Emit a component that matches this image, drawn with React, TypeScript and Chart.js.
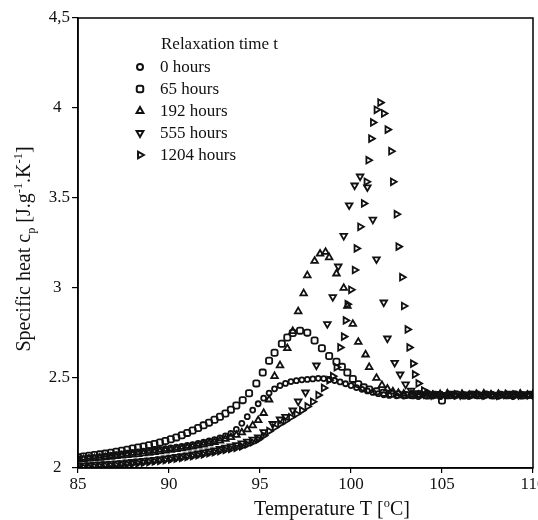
import React, { useEffect, useRef } from 'react';
import { Chart, registerables } from 'chart.js';
import { drawPoint } from 'chart.js/helpers';

Chart.register(...registerables);

const seriesLabels = ['0 hours', '65 hours', '192 hours', '555 hours', '1204 hours'];
const legendTitle = 'Relaxation time t';

const xTickValues = [85, 90, 95, 100, 105, 110];
const yTickValues = [2, 2.5, 3, 3.5, 4, 4.5];
const yTickLabels = ['2\u2002', '2.5', '3\u2002', '3.5', '4\u2002', '4,5'];

// [T (°C), cp (J/g/K)]
const hours0: [number, number][] = [
  [85.0, 2.050], [85.3, 2.052], [85.6, 2.056], [85.9, 2.058], [86.2, 2.062], [86.5, 2.066], [86.8, 2.070],
  [87.1, 2.074], [87.4, 2.078], [87.7, 2.082], [88.0, 2.086], [88.3, 2.090], [88.6, 2.094], [88.9, 2.097],
  [89.2, 2.100], [89.5, 2.104], [89.8, 2.108], [90.1, 2.112], [90.4, 2.116], [90.7, 2.120], [91.0, 2.125],
  [91.3, 2.130], [91.6, 2.136], [91.9, 2.143], [92.2, 2.150], [92.5, 2.158], [92.8, 2.167], [93.1, 2.178],
  [93.4, 2.192], [93.7, 2.215], [94.0, 2.248], [94.3, 2.285], [94.6, 2.322], [94.9, 2.357], [95.2, 2.388],
  [95.5, 2.416], [95.8, 2.440], [96.1, 2.458], [96.4, 2.470], [96.7, 2.480], [97.0, 2.485], [97.3, 2.490],
  [97.6, 2.492], [97.9, 2.495], [98.2, 2.498], [98.5, 2.497], [98.8, 2.492], [99.1, 2.486], [99.4, 2.478],
  [99.7, 2.468], [100.0, 2.458], [100.3, 2.447], [100.6, 2.437], [100.9, 2.428], [101.2, 2.420], [101.5, 2.413],
  [101.8, 2.407], [102.1, 2.403], [102.5, 2.401], [102.9, 2.400], [103.3, 2.402], [103.7, 2.397], [104.1, 2.401],
  [104.5, 2.400], [104.9, 2.396], [105.3, 2.401], [105.7, 2.400], [106.1, 2.403], [106.5, 2.398], [106.9, 2.401],
  [107.3, 2.400], [107.7, 2.403], [108.1, 2.399], [108.5, 2.401], [108.9, 2.397], [109.3, 2.401], [109.7, 2.403],
  [110.0, 2.400],
];

const hours65: [number, number][] = [
  [85.0, 2.060], [85.3, 2.064], [85.6, 2.068], [85.9, 2.072], [86.2, 2.076], [86.5, 2.080], [86.8, 2.085],
  [87.1, 2.090], [87.4, 2.096], [87.7, 2.102], [88.0, 2.108], [88.3, 2.114], [88.6, 2.120], [88.9, 2.127],
  [89.2, 2.134], [89.5, 2.142], [89.8, 2.150], [90.1, 2.160], [90.4, 2.170], [90.7, 2.182], [91.0, 2.195],
  [91.3, 2.208], [91.6, 2.222], [91.9, 2.237], [92.2, 2.252], [92.5, 2.268], [92.8, 2.285], [93.1, 2.303],
  [93.4, 2.324], [93.7, 2.347], [94.05, 2.377], [94.4, 2.415], [94.8, 2.470], [95.15, 2.530], [95.5, 2.596],
  [95.8, 2.640], [96.2, 2.690], [96.5, 2.725], [96.8, 2.750], [97.2, 2.763], [97.6, 2.752], [98.0, 2.708],
  [98.4, 2.665], [98.8, 2.622], [99.2, 2.590], [99.5, 2.562], [99.8, 2.530], [100.1, 2.495], [100.4, 2.466],
  [100.7, 2.448], [101.0, 2.436], [101.4, 2.426], [101.8, 2.418], [102.2, 2.412], [102.6, 2.408], [103.0, 2.405],
  [103.4, 2.404], [103.8, 2.408], [104.2, 2.403], [104.6, 2.407], [105.0, 2.375], [105.4, 2.404], [105.8, 2.408],
  [106.2, 2.403], [106.6, 2.407], [107.0, 2.404], [107.4, 2.408], [107.8, 2.403], [108.2, 2.407], [108.6, 2.404],
  [109.0, 2.408], [109.4, 2.403], [109.8, 2.407],
];

const hours192: [number, number][] = [
  [85.0, 2.046], [85.3, 2.048], [85.6, 2.051], [85.9, 2.053], [86.2, 2.056], [86.5, 2.059], [86.8, 2.062],
  [87.1, 2.065], [87.4, 2.068], [87.7, 2.071], [88.0, 2.074], [88.3, 2.077], [88.6, 2.081], [88.9, 2.084],
  [89.2, 2.088], [89.5, 2.092], [89.8, 2.096], [90.1, 2.100], [90.4, 2.104], [90.7, 2.108], [91.0, 2.113],
  [91.3, 2.118], [91.6, 2.124], [91.9, 2.130], [92.2, 2.137], [92.5, 2.144], [92.8, 2.152], [93.1, 2.161],
  [93.4, 2.171], [93.7, 2.183], [94.0, 2.197], [94.3, 2.214], [94.6, 2.236], [94.9, 2.265], [95.2, 2.305],
  [95.5, 2.380], [95.8, 2.510], [96.1, 2.570], [96.5, 2.665], [96.8, 2.760], [97.1, 2.870], [97.4, 2.970],
  [97.6, 3.070], [98.0, 3.150], [98.3, 3.190], [98.6, 3.200], [98.8, 3.170], [99.2, 3.080], [99.6, 3.000],
  [99.8, 2.900], [100.1, 2.800], [100.4, 2.700], [100.8, 2.630], [101.0, 2.560], [101.4, 2.500], [101.7, 2.460],
  [102.0, 2.440], [102.3, 2.425], [102.6, 2.416], [102.9, 2.412], [103.3, 2.410], [103.7, 2.406], [104.1, 2.412],
  [104.5, 2.405], [104.9, 2.410], [105.3, 2.413], [105.7, 2.406], [106.1, 2.411], [106.5, 2.405], [106.9, 2.410],
  [107.3, 2.413], [107.7, 2.406], [108.1, 2.411], [108.5, 2.409], [108.9, 2.405], [109.3, 2.412], [109.7, 2.406],
  [110.0, 2.410],
];

const hours555: [number, number][] = [
  [85.0, 2.012], [85.3, 2.014], [85.6, 2.016], [85.9, 2.018], [86.2, 2.020], [86.5, 2.022], [86.8, 2.024],
  [87.1, 2.026], [87.4, 2.028], [87.7, 2.031], [88.0, 2.034], [88.3, 2.037], [88.6, 2.040], [88.9, 2.043],
  [89.2, 2.046], [89.5, 2.050], [89.8, 2.054], [90.1, 2.058], [90.4, 2.062], [90.7, 2.066], [91.0, 2.071],
  [91.3, 2.076], [91.6, 2.081], [91.9, 2.087], [92.2, 2.093], [92.5, 2.099], [92.8, 2.106], [93.1, 2.113],
  [93.4, 2.120], [93.7, 2.128], [94.0, 2.137], [94.3, 2.147], [94.6, 2.158], [94.9, 2.170], [95.2, 2.200],
  [95.7, 2.245], [96.1, 2.270], [96.4, 2.285], [96.8, 2.320], [97.1, 2.370], [97.5, 2.420], [98.1, 2.570],
  [98.7, 2.800], [99.0, 2.950], [99.3, 3.120], [99.6, 3.290], [99.9, 3.460], [100.2, 3.570], [100.5, 3.620],
  [100.9, 3.560], [101.2, 3.380], [101.4, 3.160], [101.8, 2.920], [102.0, 2.720], [102.4, 2.585], [102.7, 2.520],
  [103.0, 2.465], [103.3, 2.430], [103.6, 2.416], [104.0, 2.410], [104.4, 2.405], [104.8, 2.412], [105.2, 2.406],
  [105.6, 2.413], [106.0, 2.405], [106.4, 2.409], [106.8, 2.413], [107.2, 2.406], [107.6, 2.411], [108.0, 2.405],
  [108.4, 2.409], [108.8, 2.413], [109.2, 2.406], [109.6, 2.411], [110.0, 2.408],
];

const hours1204: [number, number][] = [
  [85.0, 2.002], [85.3, 2.004], [85.6, 2.006], [85.9, 2.008], [86.2, 2.010], [86.5, 2.012], [86.8, 2.014],
  [87.1, 2.016], [87.4, 2.018], [87.7, 2.021], [88.0, 2.024], [88.3, 2.027], [88.6, 2.030], [88.9, 2.033],
  [89.2, 2.036], [89.5, 2.040], [89.8, 2.044], [90.1, 2.048], [90.4, 2.052], [90.7, 2.056], [91.0, 2.061],
  [91.3, 2.066], [91.6, 2.071], [91.9, 2.076], [92.2, 2.082], [92.5, 2.088], [92.8, 2.094], [93.1, 2.100],
  [93.4, 2.106], [93.7, 2.112], [94.0, 2.120], [94.3, 2.131], [94.6, 2.143], [94.9, 2.158], [95.2, 2.180],
  [95.5, 2.205], [95.8, 2.225], [96.1, 2.245], [96.4, 2.262], [96.7, 2.282], [97.0, 2.300], [97.3, 2.320],
  [97.6, 2.342], [97.9, 2.368], [98.2, 2.405], [98.5, 2.445], [98.8, 2.488], [99.0, 2.510], [99.2, 2.560],
  [99.4, 2.670], [99.6, 2.730], [99.7, 2.820], [99.8, 2.910], [100.0, 2.990], [100.2, 3.100], [100.3, 3.220],
  [100.5, 3.340], [100.7, 3.470], [100.85, 3.590], [100.95, 3.710], [101.1, 3.830], [101.2, 3.920], [101.4, 3.990],
  [101.6, 4.030], [101.8, 3.970], [102.0, 3.880], [102.2, 3.760], [102.3, 3.590], [102.5, 3.410], [102.6, 3.230],
  [102.8, 3.060], [102.9, 2.900], [103.1, 2.770], [103.2, 2.670], [103.4, 2.580], [103.5, 2.520], [103.7, 2.470],
  [104.0, 2.430], [104.3, 2.415], [104.6, 2.408], [105.0, 2.404], [105.4, 2.410], [105.8, 2.403], [106.2, 2.409],
  [106.6, 2.404], [107.0, 2.410], [107.4, 2.403], [107.8, 2.409], [108.2, 2.404], [108.6, 2.410], [109.0, 2.403],
  [109.4, 2.409], [109.8, 2.404],
];

const allSeries = [hours0, hours65, hours192, hours555, hours1204];

const markerStyles = [
  { pointStyle: 'circle', rotation: 0, radius: 2.5, legendRadius: 3.0 },
  { pointStyle: 'rectRounded', rotation: 0, radius: 3.6, legendRadius: 3.8 },
  { pointStyle: 'triangle', rotation: 0, radius: 3.8, legendRadius: 3.9 },
  { pointStyle: 'triangle', rotation: 180, radius: 3.8, legendRadius: 3.9 },
  { pointStyle: 'triangle', rotation: 90, radius: 3.8, legendRadius: 3.9 },
];

const FONT = "'Liberation Serif', 'Times New Roman', Times, serif";
const INK = '#111111';

type Seg = { t: string; m?: 'sub' | 'sup' };

function drawRich(ctx: CanvasRenderingContext2D, segs: Seg[], size: number) {
  const small = size * 0.62;
  const widths = segs.map((s) => {
    ctx.font = `${s.m ? small : size}px ${FONT}`;
    return ctx.measureText(s.t).width;
  });
  const total = widths.reduce((a, b) => a + b, 0);
  let x = -total / 2;
  segs.forEach((s, i) => {
    ctx.font = `${s.m ? small : size}px ${FONT}`;
    const dy = s.m === 'sub' ? size * 0.25 : s.m === 'sup' ? -size * 0.4 : 0;
    ctx.fillText(s.t, x, dy);
    x += widths[i];
  });
}

const decorPlugin = {
  id: 'decor',
  afterDraw(chart: any) {
    const ctx: CanvasRenderingContext2D = chart.ctx;
    const a = chart.chartArea;
    ctx.save();
    ctx.strokeStyle = '#000';
    ctx.lineWidth = 1.5;
    ctx.strokeRect(a.left, a.top, a.right - a.left, a.bottom - a.top);

    ctx.fillStyle = '#111';
    ctx.textAlign = 'left';
    ctx.textBaseline = 'alphabetic';
    // x title
    ctx.save();
    ctx.translate(332, 515);
    drawRich(ctx, [{ t: 'Temperature T [' }, { t: 'o', m: 'sup' }, { t: 'C]' }], 20);
    ctx.restore();
    // y title
    ctx.save();
    ctx.translate(30, 249);
    ctx.rotate(-Math.PI / 2);
    drawRich(
      ctx,
      [
        { t: 'Specific heat c' },
        { t: 'p', m: 'sub' },
        { t: ' [J.g' },
        { t: '-1', m: 'sup' },
        { t: '.K' },
        { t: '-1', m: 'sup' },
        { t: ']' },
      ],
      20
    );
    ctx.restore();

    // legend
    ctx.font = `17px ${FONT}`;
    ctx.textBaseline = 'middle';
    ctx.fillText(legendTitle, 161, 45);
    const ys = [67, 89, 111, 133, 155];
    seriesLabels.forEach((lab, i) => {
      const st = markerStyles[i];
      ctx.fillStyle = '#fff';
      ctx.strokeStyle = INK;
      ctx.lineWidth = 2;
      drawPoint(ctx, { pointStyle: st.pointStyle as any, rotation: st.rotation, radius: st.legendRadius, borderWidth: 2 }, 140, ys[i]);
      ctx.fillStyle = '#111';
      ctx.fillText(lab, 160, ys[i] + 1);
    });
    ctx.restore();
  },
};

export default function App() {
  const ref = useRef<HTMLCanvasElement | null>(null);
  useEffect(() => {
    if (!ref.current) return;
    Chart.defaults.font.family = FONT;
    const chart = new Chart(ref.current, {
      type: 'scatter',
      data: {
        datasets: allSeries.map((s, i) => ({
          label: seriesLabels[i],
          data: s.map(([x, y]) => ({ x, y })),
          showLine: false,
          pointStyle: markerStyles[i].pointStyle as any,
          pointRotation: markerStyles[i].rotation,
          pointRadius: markerStyles[i].radius,
          pointBorderWidth: 1.8,
          pointBorderColor: INK,
          pointBackgroundColor: 'rgba(255,255,255,0)',
          borderColor: INK,
          backgroundColor: 'rgba(255,255,255,0)',
        })),
      },
      options: {
        responsive: false,
        animation: false,
        events: [],
        layout: { padding: { top: 18, right: 5, bottom: 0, left: 0 }, autoPadding: false } as any,
        plugins: { legend: { display: false }, tooltip: { enabled: false } },
        scales: {
          x: {
            type: 'linear',
            min: 85,
            max: 110,
            afterBuildTicks: (s: any) => {
              s.ticks = xTickValues.map((v) => ({ value: v }));
            },
            afterFit: (s: any) => {
              s.height = 52;
              s.paddingLeft = 0;
              s.paddingRight = 0;
            },
            grid: { display: true, drawOnChartArea: false, drawTicks: true, tickLength: 5, color: '#000', lineWidth: 1.2 },
            border: { display: true, color: '#000', width: 1.5 },
            ticks: { color: '#111', font: { size: 17, family: FONT }, padding: 1, maxRotation: 0, autoSkip: false },
            title: { display: false },
          },
          y: {
            type: 'linear',
            min: 2,
            max: 4.5,
            afterBuildTicks: (s: any) => {
              s.ticks = yTickValues.map((v) => ({ value: v }));
            },
            afterFit: (s: any) => {
              s.width = 78;
              s.paddingTop = 0;
              s.paddingBottom = 0;
            },
            grid: { display: true, drawOnChartArea: false, drawTicks: true, tickLength: 6, color: '#000', lineWidth: 1.2 },
            border: { display: true, color: '#000', width: 1.5 },
            ticks: {
              color: '#111',
              font: { size: 17, family: FONT },
              padding: 2,
              autoSkip: false,
              callback: (v: any) => {
                const i = yTickValues.indexOf(Number(v));
                return i >= 0 ? yTickLabels[i] : '';
              },
            },
            title: { display: false },
          },
        },
      },
      plugins: [decorPlugin],
    });
    return () => chart.destroy();
  }, []);
  return (
    <div style={{ position: 'fixed', left: 0, top: 0, width: 538, height: 520, background: '#fff' }}>
      <canvas ref={ref} width={538} height={520} style={{ display: 'block' }} />
    </div>
  );
}
